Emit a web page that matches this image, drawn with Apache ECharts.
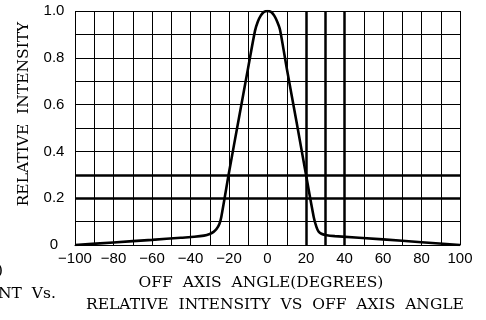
<!DOCTYPE html>
<html>
<head>
<meta charset="utf-8">
<script src="https://cdn.jsdelivr.net/npm/echarts@6/dist/echarts.min.js"></script>
<style>
  html, body { margin: 0; padding: 0; background: #fff; }
  #chart { width: 486px; height: 320px; }
</style>
</head>
<body>
<div id="chart"></div>
<script>
// off axis angle (degrees) and relative intensity
let angles = [-100, -80, -60, -45, -38, -33, -30, -28, -26.5, -25, -24, -20, -15, -10, -6.5, -5, -3.5, -2, 0,
              2, 3.5, 5, 6.5, 10, 15, 20, 24, 25.5, 26.5, 28, 30, 35, 60, 80, 100];
let intensity = [0, 0.011, 0.022, 0.031, 0.035, 0.040, 0.047, 0.056, 0.068, 0.09, 0.12, 0.31, 0.535, 0.76, 0.915, 0.955, 0.98, 0.995, 1.0,
                 0.995, 0.98, 0.955, 0.92, 0.755, 0.53, 0.30, 0.12, 0.075, 0.058, 0.048, 0.043, 0.038, 0.024, 0.012, 0];

let xTickValues = [-100, -80, -60, -40, -20, 0, 20, 40, 60, 80, 100];
let xTickLabels = ['\u2212100', '\u221280', '\u221260', '\u221240', '\u221220', '0', '20', '40', '60', '80', '100'];
let yTickValues = [0, 0.2, 0.4, 0.6, 0.8, 1.0];
let yTickLabels = ['0', '0.2', '0.4', '0.6', '0.8', '1.0'];

// heavier grid lines
let thickX = [20, 30, 40];
let thickY = [0.2, 0.3];

let serif = '"DejaVu Serif", "Liberation Serif", serif';
let sans = '"Liberation Sans", Arial, sans-serif';

function pickLabel(values, labels, v) {
    for (let i = 0; i < values.length; i++) {
        if (Math.abs(values[i] - v) < 1e-6) return labels[i];
    }
    return '';
}

let points = angles.map(function (a, i) { return [a, intensity[i]]; });

let markData = [];
thickX.forEach(function (v) { markData.push({ xAxis: v }); });
thickY.forEach(function (v) { markData.push({ yAxis: v }); });

let option = {
    animation: false,
    backgroundColor: '#fff',
    grid: { left: 75, right: 26, top: 11, bottom: 75 },
    xAxis: {
        type: 'value',
        min: -100,
        max: 100,
        interval: 10,
        axisLine: { show: true, lineStyle: { color: '#000', width: 1 } },
        axisTick: { show: false },
        splitLine: { show: true, lineStyle: { color: '#000', width: 1 } },
        axisLabel: {
            color: '#000',
            fontFamily: sans,
            fontSize: 15,
            margin: 6,
            formatter: function (v) { return pickLabel(xTickValues, xTickLabels, v); }
        }
    },
    yAxis: {
        type: 'value',
        min: 0,
        max: 1,
        interval: 0.1,
        axisLine: { show: true, lineStyle: { color: '#000', width: 1 } },
        axisTick: { show: false },
        splitLine: { show: true, lineStyle: { color: '#000', width: 1 } },
        axisLabel: {
            color: '#000',
            fontFamily: sans,
            fontSize: 15,
            align: 'center',
            margin: 21,
            formatter: function (v) { return pickLabel(yTickValues, yTickLabels, v); }
        }
    },
    series: [
        {
            type: 'line',
            data: points,
            smooth: 0.25,
            symbol: 'none',
            lineStyle: { color: '#000', width: 2.6 },
            markLine: {
                silent: true,
                symbol: 'none',
                label: { show: false },
                lineStyle: { color: '#000', width: 2.5, type: 'solid' },
                data: markData
            }
        }
    ],
    graphic: [
        {
            type: 'text', x: 24, y: 114, rotation: Math.PI / 2,
            style: { text: 'RELATIVE  INTENSITY', font: '15.5px ' + serif, fill: '#000', align: 'center', verticalAlign: 'middle' }
        },
        {
            type: 'text', x: 261, y: 283,
            style: { text: 'OFF  AXIS  ANGLE(DEGREES)', font: '15.5px ' + serif, fill: '#000', align: 'center', verticalAlign: 'middle' }
        },
        {
            type: 'text', x: 275, y: 305,
            style: { text: 'RELATIVE  INTENSITY  VS  OFF  AXIS  ANGLE', font: '15.5px ' + serif, fill: '#000', align: 'center', verticalAlign: 'middle' }
        },
        {
            type: 'text', x: -3, y: 271,
            style: { text: ')', font: '15.5px ' + serif, fill: '#000', align: 'left', verticalAlign: 'middle' }
        },
        {
            type: 'text', x: -2, y: 294,
            style: { text: 'NT  Vs.', font: '15.5px ' + serif, fill: '#000', align: 'left', verticalAlign: 'middle' }
        }
    ]
};

let chart = echarts.init(document.getElementById('chart'), null, { renderer: 'canvas' });
chart.setOption(option);
</script>
</body>
</html>
